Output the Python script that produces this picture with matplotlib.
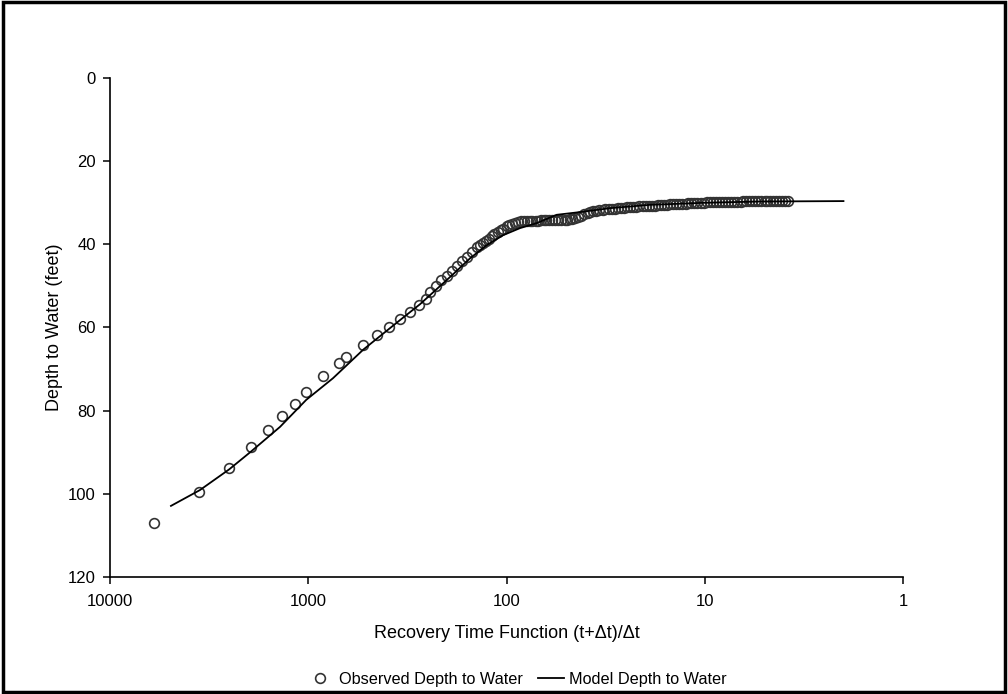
import matplotlib.pyplot as plt
from matplotlib.patches import Rectangle

plt.rcParams['font.family'] = ['Liberation Sans', 'DejaVu Sans']

# observed recovery data: (t+dt)/dt and depth to water (ft)
# early, widely spaced readings
obs_x_early = [5998, 3548, 2502, 1950, 1602, 1362, 1171, 1026, 839, 697, 645,
               528, 450, 393, 344, 307, 277, 255, 243, 227, 213, 199, 188, 177,
               168, 158, 149]
obs_y_early = [106.9, 99.5, 93.8, 88.7, 84.7, 81.2, 78.3, 75.6, 71.6, 68.5, 67.2,
               64.3, 61.7, 59.9, 57.9, 56.2, 54.6, 53.2, 51.4, 49.9, 48.6, 47.5,
               46.5, 45.2, 44.1, 43.0, 41.8]

# late, closely spaced readings
obs_x_late = [141, 136, 131, 127, 123, 119, 115, 111, 107, 104,
              100, 97, 94, 91, 88, 85, 82, 79, 76, 74,
              71, 69, 67, 65, 63, 61, 59, 57, 55, 53,
              51, 49.5, 48, 46.5, 45, 43.5, 42, 40.5, 39, 37.8,
              36.5, 35.2, 34, 32.8, 31.7, 30.6, 29.5, 28.5, 27.5, 26.5,
              25.6, 24.7, 23.8, 23, 22.2, 21.4, 20.6, 19.9, 19.2, 18.5,
              17.9, 17.3, 16.7, 16.1, 15.5, 15, 14.5, 14, 13.5, 13,
              12.5, 12.1, 11.7, 11.3, 10.9, 10.5, 10.1, 9.75, 9.4, 9.1,
              8.8, 8.5, 8.2, 7.9, 7.6, 7.35, 7.1, 6.85, 6.6, 6.4,
              6.2, 6.0, 5.8, 5.6, 5.4, 5.2, 5.0, 4.85, 4.7, 4.55,
              4.4, 4.25, 4.1, 3.95, 3.8]
obs_y_late = [40.6, 40.1, 39.6, 39.1, 38.6, 38.1, 37.6, 37.1, 36.6, 36.2,
              35.7, 35.3, 35.0, 34.8, 34.6, 34.5, 34.4, 34.4, 34.3, 34.3,
              34.3, 34.3, 34.2, 34.2, 34.2, 34.2, 34.2, 34.2, 34.2, 34.2,
              34.1, 34.1, 34.0, 33.9, 33.7, 33.4, 33.1, 32.8, 32.5, 32.2,
              32.0, 31.9, 31.8, 31.7, 31.6, 31.5, 31.5, 31.4, 31.3, 31.3,
              31.2, 31.1, 31.1, 31.0, 31.0, 30.9, 30.9, 30.8, 30.8, 30.7,
              30.7, 30.6, 30.6, 30.5, 30.5, 30.4, 30.4, 30.3, 30.3, 30.2,
              30.2, 30.1, 30.1, 30.1, 30.0, 30.0, 30.0, 29.9, 29.9, 29.9,
              29.8, 29.8, 29.8, 29.8, 29.7, 29.7, 29.7, 29.7, 29.7, 29.6,
              29.6, 29.6, 29.6, 29.6, 29.6, 29.5, 29.5, 29.5, 29.5, 29.5,
              29.5, 29.5, 29.5, 29.5, 29.5]

# model curve
mod_x = [4920, 3516, 2500, 1950, 1387, 1023, 750, 527, 344, 273, 185, 153, 126,
         104, 85.5, 70.5, 55.9, 41.8, 30.1, 18.9, 10, 5.3, 2.0]
mod_y = [102.9, 99.1, 94.1, 89.9, 83.9, 77.4, 72.2, 65.3, 58.2, 54.4, 47.1, 43.4,
         40.2, 37.8, 36.1, 34.9, 32.9, 32.2, 31.3, 30.5, 30.0, 29.7, 29.6]

xticks = [10000, 1000, 100, 10, 1]
xtick_labels = ['10000', '1000', '100', '10', '1']

obs_x = obs_x_early + obs_x_late
obs_y = obs_y_early + obs_y_late

fig = plt.figure(figsize=(10.08, 6.94), dpi=100)
ax = fig.add_axes([0.109, 0.1686, 0.787, 0.719])

ax.plot(obs_x, obs_y, 'o', mfc='none', mec='#333333', ms=7, mew=1.2,
        label='Observed Depth to Water')
ax.plot(mod_x, mod_y, '-', color='black', lw=1.3, label='Model Depth to Water')

ax.set_xscale('log')
ax.set_xlim(10000, 1)
ax.set_ylim(120, 0)
ax.set_xticks(xticks)
ax.set_xticklabels(xtick_labels)
ax.minorticks_off()
ax.set_yticks(range(0, 121, 20))
ax.tick_params(labelsize=12, length=5, width=1.1, direction='out')
ax.tick_params(axis='x', pad=7)
ax.tick_params(axis='y', pad=5)

ax.spines['top'].set_visible(False)
ax.spines['right'].set_visible(False)
ax.spines['left'].set_linewidth(1.2)
ax.spines['bottom'].set_linewidth(1.2)

ax.set_xlabel('Recovery Time Function (t+\u0394t)/\u0394t', fontsize=13, labelpad=12)
ax.set_ylabel('Depth to Water (feet)', fontsize=13, labelpad=4)

fig.legend(loc='center', bbox_to_anchor=(0.513, 0.021), ncol=2, frameon=False,
           fontsize=11.7, handlelength=1.6, columnspacing=0.9, handletextpad=0.35)

fig.patches.append(Rectangle((0.003, 0.003), 0.994, 0.994, transform=fig.transFigure,
                             fill=False, edgecolor='black', lw=2.5))

fig.savefig('out.png', dpi=100)
